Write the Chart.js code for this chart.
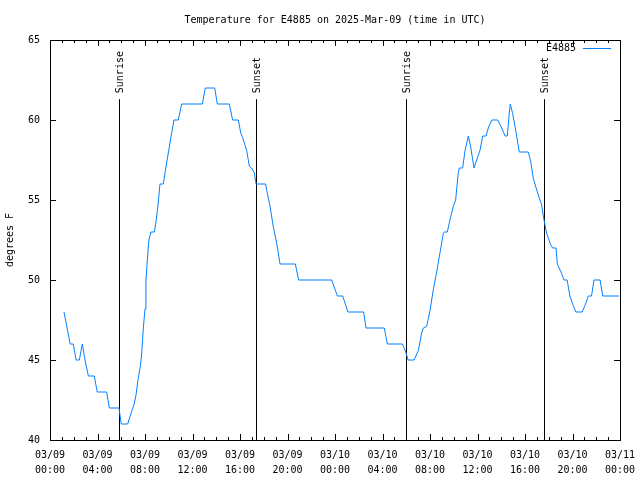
<!DOCTYPE html>
<html>
<head>
<meta charset="utf-8">
<title>Temperature for E4885</title>
<script src="https://cdn.jsdelivr.net/npm/chart.js@4.4.1/dist/chart.umd.min.js"></script>
<style>
  html, body { margin: 0; padding: 0; background: #fff; }
  #wrap { width: 640px; height: 480px; }
</style>
</head>
<body>
<div id="wrap"><canvas id="tempChart" width="640" height="480"></canvas></div>
<script>
// ===== DATA (hours since 03/09 00:00 UTC) =====
const hours = [
  1.18, 1.7, 1.96, 2.2, 2.47, 2.72, 2.95, 3.23, 3.73, 3.98,
  4.77, 5.0, 5.81, 6.0, 6.54, 6.88, 7.07, 7.24, 7.41, 7.61,
  7.72, 7.86, 8.0, 8.08, 8.22, 8.33, 8.5, 8.79, 8.9, 9.05,
  9.15, 9.26, 9.54, 9.75, 9.98, 10.2, 10.44, 10.8, 11.09, 12.83,
  13.08, 13.87, 14.09, 15.1, 15.38, 15.86, 16.06, 16.22, 16.56, 16.79,
  16.98, 17.2, 17.35, 18.16, 18.25, 18.53, 18.81, 19.09, 19.37, 20.66,
  20.94, 23.72, 24.2, 24.65, 25.09, 26.41, 26.61, 28.15, 28.41, 29.67,
  29.8, 30.0, 30.15, 30.66, 31.02, 31.3, 31.44, 31.72, 32.0, 32.28,
  32.56, 32.84, 33.12, 33.2, 33.46, 33.68, 33.96, 34.16, 34.38, 34.47,
  34.75, 34.95, 35.23, 35.43, 35.6, 35.7, 35.93, 36.21, 36.44, 36.72,
  36.91, 37.19, 37.7, 38.04, 38.32, 38.51, 38.68, 38.76, 38.96, 39.16,
  39.35, 39.52, 40.28, 40.48, 40.7, 40.84, 41.12, 41.4, 41.6, 41.83,
  42.16, 42.33, 42.61, 42.72, 43.09, 43.28, 43.55, 43.78, 44.06, 44.29,
  44.82, 45.05, 45.33, 45.6, 45.81, 46.32, 46.55, 47.92
];
const temps = [
  48, 46, 46, 45, 45, 46, 45, 44, 44, 43,
  43, 42, 42, 41, 41, 41.8, 42.2, 42.8, 43.75, 44.6,
  45.4, 47, 48.2, 50, 51.5, 52.5, 53, 53, 53.5, 54.4,
  55.1, 56, 56, 57, 58, 59, 60, 60, 61, 61,
  62, 62, 61, 61, 60, 60, 59.2, 58.9, 58.1, 57.1,
  57, 56.7, 56, 56, 55.6, 54.6, 53.3, 52.3, 51, 51,
  50, 50, 49, 49, 48, 48, 47, 47, 46, 46,
  45.8, 45.4, 45, 45, 45.6, 46.7, 47, 47.1, 48.1, 49.4,
  50.5, 51.7, 52.9, 53, 53, 53.75, 54.6, 55, 56.7, 57,
  57, 58.1, 59, 58.3, 57.5, 57, 57.5, 58.1, 59, 59,
  59.5, 60, 60, 59.5, 59, 59, 60.5, 61, 60.4, 59.6,
  58.75, 58, 58, 57.4, 56.35, 56, 55.3, 54.7, 53.75, 52.9,
  52.2, 52, 52, 51, 50.4, 50, 50, 49, 48.4, 48,
  48, 48.4, 49, 49, 50, 50, 49, 49
];
const xTickLabels = [
  ['03/09', '00:00'], ['03/09', '04:00'], ['03/09', '08:00'], ['03/09', '12:00'],
  ['03/09', '16:00'], ['03/09', '20:00'], ['03/10', '00:00'], ['03/10', '04:00'],
  ['03/10', '08:00'], ['03/10', '12:00'], ['03/10', '16:00'], ['03/10', '20:00'],
  ['03/11', '00:00']
];
const sunHours = [5.81, 17.35, 29.98, 41.6];
const sunLabels = ['Sunrise', 'Sunset', 'Sunrise', 'Sunset'];

const FONT = 'DejaVu Sans Mono, Liberation Mono, monospace';
const LINE_COLOR = '#0080ff';

// ===== GNUPLOT-ish FRAME, TICKS, SUN LINES, KEY =====
const framePlugin = {
  id: 'frame',
  beforeDatasetsDraw(chart) {
    const { ctx, chartArea: a, scales: { x, y } } = chart;
    ctx.save();
    ctx.strokeStyle = '#000';
    ctx.fillStyle = '#000';
    ctx.lineWidth = 1;
    ctx.font = '10px ' + FONT;
    const topY = y.getPixelForValue(61.3);
    sunHours.forEach((h, i) => {
      const px = Math.round(x.getPixelForValue(h)) + 0.5;
      ctx.beginPath();
      ctx.moveTo(px, a.bottom);
      ctx.lineTo(px, topY);
      ctx.stroke();
      ctx.save();
      ctx.translate(px + 1, topY - 6);
      ctx.rotate(-Math.PI / 2);
      ctx.textAlign = 'left';
      ctx.textBaseline = 'middle';
      ctx.fillText(sunLabels[i], 0, 0);
      ctx.restore();
    });
    ctx.restore();
  },
  afterDraw(chart) {
    const { ctx, chartArea: a, scales: { x, y } } = chart;
    ctx.save();
    ctx.strokeStyle = '#000';
    ctx.lineWidth = 1;
    ctx.beginPath();
    // hourly ticks, long every 4h
    for (let h = 0; h <= 48; h++) {
      const len = h % 4 === 0 ? 6 : 3;
      const px = Math.round(x.getPixelForValue(h)) + 0.5;
      ctx.moveTo(px, a.bottom); ctx.lineTo(px, a.bottom - len);
      ctx.moveTo(px, a.top); ctx.lineTo(px, a.top + len);
    }
    for (let v = 40; v <= 65; v += 5) {
      const py = Math.round(y.getPixelForValue(v)) + 0.5;
      ctx.moveTo(a.left, py); ctx.lineTo(a.left + 6, py);
      ctx.moveTo(a.right, py); ctx.lineTo(a.right - 6, py);
    }
    ctx.stroke();
    ctx.strokeRect(a.left + 0.5, a.top + 0.5, a.right - a.left, a.bottom - a.top);

    // key
    ctx.fillStyle = '#000';
    ctx.font = '10px ' + FONT;
    ctx.textAlign = 'right';
    ctx.textBaseline = 'middle';
    ctx.fillText(chart.data.datasets[0].label, a.right - 44, a.top + 8);
    ctx.strokeStyle = LINE_COLOR;
    ctx.beginPath();
    ctx.moveTo(a.right - 37, a.top + 8.5);
    ctx.lineTo(a.right - 9, a.top + 8.5);
    ctx.stroke();
    ctx.restore();
  }
};

const ctx = document.getElementById('tempChart').getContext('2d');
new Chart(ctx, {
  type: 'line',
  data: {
    datasets: [{
      label: 'E4885',
      data: hours.map((h, i) => ({ x: h, y: temps[i] })),
      borderColor: LINE_COLOR,
      borderWidth: 1,
      pointRadius: 0,
      tension: 0,
      fill: false
    }]
  },
  options: {
    responsive: false,
    animation: false,
    events: [],
    layout: { padding: { left: 0, right: 20, top: 0, bottom: 0 } },
    plugins: {
      legend: { display: false },
      tooltip: { enabled: false },
      title: {
        display: true,
        fullSize: false,
        text: 'Temperature for E4885 on 2025-Mar-09 (time in UTC)',
        color: '#000',
        font: { family: FONT, size: 10, weight: 'normal', lineHeight: 1.2 },
        padding: { top: 14, bottom: 14 }
      }
    },
    scales: {
      x: {
        type: 'linear',
        min: 0,
        max: 48,
        grid: { display: false, drawTicks: false },
        border: { display: false },
        ticks: {
          stepSize: 4,
          autoSkip: false,
          maxRotation: 0,
          minRotation: 0,
          padding: 8,
          color: '#000',
          font: { family: FONT, size: 10, lineHeight: 1.5 },
          callback: (v) => xTickLabels[Math.round(v / 4)]
        },
        afterFit: (s) => {
          s.height = 40;
          s.paddingLeft = 0;
          s.paddingRight = 0;
        }
      },
      y: {
        min: 40,
        max: 65,
        grid: { display: false, drawTicks: false },
        border: { display: false },
        ticks: {
          stepSize: 5,
          padding: 10,
          color: '#000',
          font: { family: FONT, size: 10 }
        },
        title: {
          display: true,
          text: 'degrees F',
          color: '#000',
          font: { family: FONT, size: 10, lineHeight: 1.2 },
          padding: { top: 4, bottom: 0 }
        },
        afterFit: (s) => { s.width = 50; }
      }
    }
  },
  plugins: [framePlugin]
});
</script>
</body>
</html>
